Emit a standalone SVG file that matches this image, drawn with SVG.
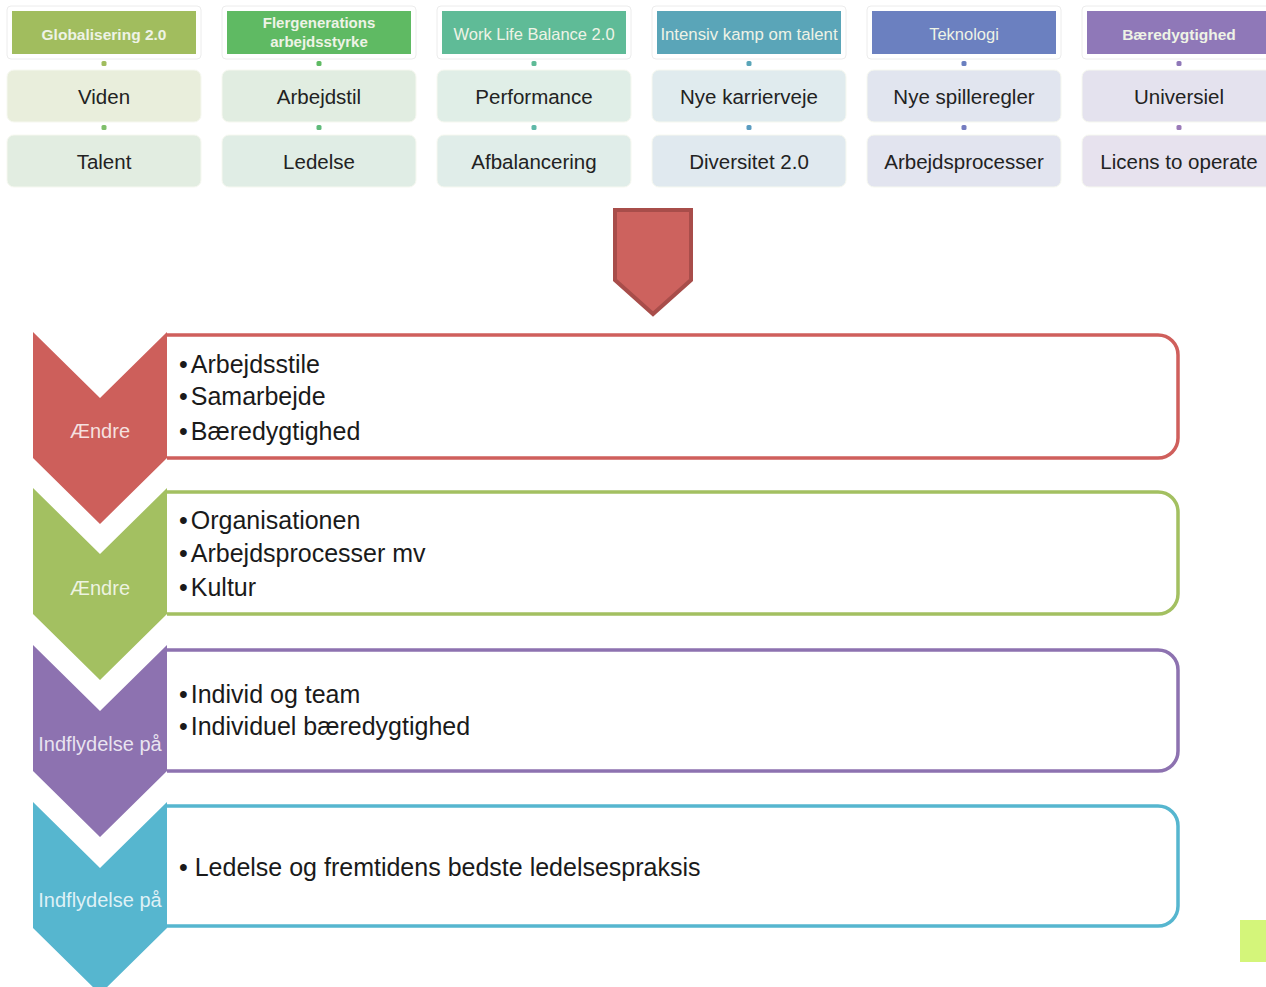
<svg xmlns="http://www.w3.org/2000/svg" width="1266" height="987" viewBox="0 0 1266 987">
<style>
.frame{fill:#ffffff;stroke:#ececec;stroke-width:1}
.hdr{font-family:"Liberation Sans",Arial,sans-serif;font-size:16.5px;fill:#eef3e6;text-anchor:middle}
.b{font-weight:bold}
.lbl{font-family:"Liberation Sans",Arial,sans-serif;font-size:20.5px;fill:#222222;text-anchor:middle}
.blt{font-family:"Liberation Sans",Arial,sans-serif;font-size:25px;fill:#1a1a1a}
.chv{font-family:"Liberation Sans",Arial,sans-serif;font-size:20px;fill:#ffffff;fill-opacity:0.82;text-anchor:middle}
.box{fill:#ffffff;stroke-width:3.5}
</style>
<rect width="1266" height="987" fill="#ffffff"/>

<!-- top columns -->
<g id="col1">
<rect class="frame" x="7" y="6" width="194" height="53" rx="4"/>
<rect x="12" y="11" width="184" height="43" fill="#a1bd5e"/>
<text class="hdr b" x="104" y="39.5" style="font-size:15.5px">Globalisering 2.0</text>
<rect x="101.5" y="61" width="5" height="5" rx="1.5" fill="#a1bd5e"/>
<rect x="7" y="70" width="194" height="52" rx="7" fill="#e9eedc" stroke="#f6f8f0"/>
<text class="lbl" x="104" y="104">Viden</text>
<rect x="101.5" y="125" width="5" height="5" rx="1.5" fill="#7fbf6a"/>
<rect x="7" y="135" width="194" height="52" rx="7" fill="#e2ede1" stroke="#f6f8f0"/>
<text class="lbl" x="104" y="169">Talent</text>
</g>
<g id="col2">
<rect class="frame" x="222" y="6" width="194" height="53" rx="4"/>
<rect x="227" y="11" width="184" height="43" fill="#5fba63"/>
<text class="hdr b" x="319" y="28" style="font-size:15px">Flergenerations</text>
<text class="hdr b" x="319" y="47" style="font-size:15px">arbejdsstyrke</text>
<rect x="316.5" y="61" width="5" height="5" rx="1.5" fill="#5fba63"/>
<rect x="222" y="70" width="194" height="52" rx="7" fill="#e1ede1" stroke="#f6f8f0"/>
<text class="lbl" x="319" y="104">Arbejdstil</text>
<rect x="316.5" y="125" width="5" height="5" rx="1.5" fill="#5fba7a"/>
<rect x="222" y="135" width="194" height="52" rx="7" fill="#e0ede5" stroke="#f6f8f0"/>
<text class="lbl" x="319" y="169">Ledelse</text>
</g>
<g id="col3">
<rect class="frame" x="437" y="6" width="194" height="53" rx="4"/>
<rect x="442" y="11" width="184" height="43" fill="#5fbb97"/>
<text class="hdr" x="534" y="39.5">Work Life Balance 2.0</text>
<rect x="531.5" y="61" width="5" height="5" rx="1.5" fill="#5fbb97"/>
<rect x="437" y="70" width="194" height="52" rx="7" fill="#e0eee7" stroke="#f6f8f0"/>
<text class="lbl" x="534" y="104">Performance</text>
<rect x="531.5" y="125" width="5" height="5" rx="1.5" fill="#5fb8a8"/>
<rect x="437" y="135" width="194" height="52" rx="7" fill="#e0ede9" stroke="#f6f8f0"/>
<text class="lbl" x="534" y="169">Afbalancering</text>
</g>
<g id="col4">
<rect class="frame" x="652" y="6" width="194" height="53" rx="4"/>
<rect x="657" y="11" width="184" height="43" fill="#5aa5b8"/>
<text class="hdr" x="749" y="39.5" style="font-size:16.8px">Intensiv kamp om talent</text>
<rect x="746.5" y="61" width="5" height="5" rx="1.5" fill="#5aa5b8"/>
<rect x="652" y="70" width="194" height="52" rx="7" fill="#e0ebee" stroke="#f6f8f0"/>
<text class="lbl" x="749" y="104">Nye karrierveje</text>
<rect x="746.5" y="125" width="5" height="5" rx="1.5" fill="#5a9cc0"/>
<rect x="652" y="135" width="194" height="52" rx="7" fill="#e0e9ef" stroke="#f6f8f0"/>
<text class="lbl" x="749" y="169">Diversitet 2.0</text>
</g>
<g id="col5">
<rect class="frame" x="867" y="6" width="194" height="53" rx="4"/>
<rect x="872" y="11" width="184" height="43" fill="#6b80c0"/>
<text class="hdr" x="964" y="39.5">Teknologi</text>
<rect x="961.5" y="61" width="5" height="5" rx="1.5" fill="#6b80c0"/>
<rect x="867" y="70" width="194" height="52" rx="7" fill="#e1e5ef" stroke="#f6f8f0"/>
<text class="lbl" x="964" y="104">Nye spilleregler</text>
<rect x="961.5" y="125" width="5" height="5" rx="1.5" fill="#757cc0"/>
<rect x="867" y="135" width="194" height="52" rx="7" fill="#e2e4ef" stroke="#f6f8f0"/>
<text class="lbl" x="964" y="169">Arbejdsprocesser</text>
</g>
<g id="col6">
<rect class="frame" x="1082" y="6" width="194" height="53" rx="4"/>
<rect x="1087" y="11" width="184" height="43" fill="#8f78b8"/>
<text class="hdr b" x="1179" y="39.5" style="font-size:15.5px">Bæredygtighed</text>
<rect x="1176.5" y="61" width="5" height="5" rx="1.5" fill="#8f78b8"/>
<rect x="1082" y="70" width="194" height="52" rx="7" fill="#e4e2ee" stroke="#f6f8f0"/>
<text class="lbl" x="1179" y="104">Universiel</text>
<rect x="1176.5" y="125" width="5" height="5" rx="1.5" fill="#9a7ab8"/>
<rect x="1082" y="135" width="194" height="52" rx="7" fill="#e7e2ee" stroke="#f6f8f0"/>
<text class="lbl" x="1179" y="169">Licens to operate</text>
</g>

<!-- connectors -->
<g id="connectors">
<path d="M615,210 L691,210 L691,280 L653,314 L615,280 Z" fill="#cd625e" stroke="#a84d4a" stroke-width="4" stroke-linejoin="miter"/>
</g>

<!-- text boxes -->
<g id="box1">
<path class="box" d="M167,335 H1158 A20,20 0 0 1 1178,355 V438 A20,20 0 0 1 1158,458 H167" stroke="#cf5f5c"/>
<text class="blt" x="179" y="373">•<tspan dx="3">Arbejdsstile</tspan></text>
<text class="blt" x="179" y="405">•<tspan dx="3">Samarbejde</tspan></text>
<text class="blt" x="179" y="440">•<tspan dx="3">Bæredygtighed</tspan></text>
</g>
<g id="box2">
<path class="box" d="M167,492 H1158 A20,20 0 0 1 1178,512 V594 A20,20 0 0 1 1158,614 H167" stroke="#a3c061"/>
<text class="blt" x="179" y="529">•<tspan dx="3">Organisationen</tspan></text>
<text class="blt" x="179" y="562">•<tspan dx="3">Arbejdsprocesser mv</tspan></text>
<text class="blt" x="179" y="596">•<tspan dx="3">Kultur</tspan></text>
</g>
<g id="box3">
<path class="box" d="M167,650 H1158 A20,20 0 0 1 1178,670 V751 A20,20 0 0 1 1158,771 H167" stroke="#8d72b0"/>
<text class="blt" x="179" y="703">•<tspan dx="3">Individ og team</tspan></text>
<text class="blt" x="179" y="735">•<tspan dx="3">Individuel bæredygtighed</tspan></text>
</g>
<g id="box4">
<path class="box" d="M167,806 H1158 A20,20 0 0 1 1178,826 V906 A20,20 0 0 1 1158,926 H167" stroke="#56b6cf"/>
<text class="blt" x="179" y="876">• Ledelse og fremtidens bedste ledelsespraksis</text>
</g>

<!-- chevrons -->
<g id="chev1">
<path d="M33,332 L100,398 L167,332 L167,458 L100,524 L33,458 Z" fill="#cd5f5b"/>
<text class="chv" x="100" y="438">Ændre</text>
</g>
<g id="chev2">
<path d="M33,488 L100,554 L167,488 L167,614 L100,680 L33,614 Z" fill="#a3c061"/>
<text class="chv" x="100" y="595">Ændre</text>
</g>
<g id="chev3">
<path d="M33,645 L100,711 L167,645 L167,771 L100,837 L33,771 Z" fill="#8d72b0"/>
<text class="chv" x="100" y="751">Indflydelse på</text>
</g>
<g id="chev4">
<path d="M33,802 L100,868 L167,802 L167,928 L100,994 L33,928 Z" fill="#56b6cf"/>
<text class="chv" x="100" y="907">Indflydelse på</text>
</g>

<rect x="1240" y="920" width="26" height="42" fill="#d4f57a"/>
</svg>
